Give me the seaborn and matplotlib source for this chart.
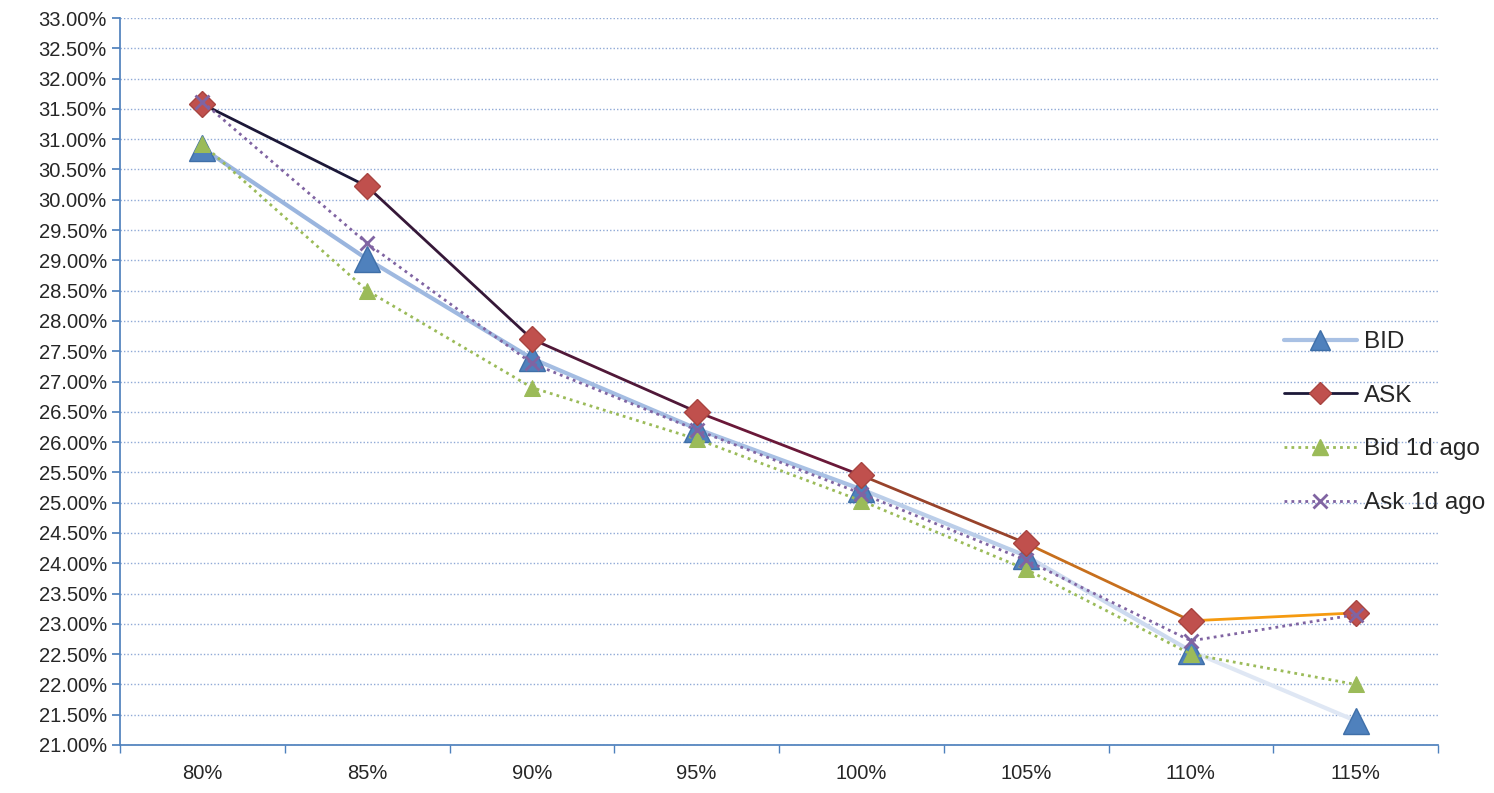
import matplotlib
matplotlib.use("Agg")
import matplotlib.pyplot as plt
import seaborn as sns
import numpy as np
from matplotlib.colors import to_rgb
from matplotlib.lines import Line2D
from matplotlib.ticker import FuncFormatter, MultipleLocator

categories = ["80%", "85%", "90%", "95%", "100%", "105%", "110%", "115%"]
bid = [30.85, 29.02, 27.38, 26.22, 25.22, 24.12, 22.55, 21.40]
ask = [31.58, 30.22, 27.70, 26.50, 25.45, 24.33, 23.05, 23.18]
bid_1d = [30.92, 28.50, 26.90, 26.05, 25.03, 23.90, 22.50, 22.00]
ask_1d = [31.62, 29.28, 27.30, 26.20, 25.15, 24.05, 22.72, 23.15]

sns.set_theme(style="white")
plt.rcParams['font.family'] = ['Liberation Sans', 'DejaVu Sans']

fig = plt.figure(figsize=(14.94, 7.93), dpi=100)
ax = fig.add_axes([120/1494, 48/793, 1318/1494, 727/793])
x = np.arange(len(categories))

def grad(c0, c1, c2, n):
    out = []
    for i in range(n):
        t = i/(n-1)
        if t < 0.5:
            a, b, s = to_rgb(c0), to_rgb(c1), t/0.5
        else:
            a, b, s = to_rgb(c1), to_rgb(c2), (t-0.5)/0.5
        out.append(tuple(a[k]+(b[k]-a[k])*s for k in range(3)))
    return out

bid_cols = grad("#9ab5de", "#a9c1e4", "#dfe7f4", len(x)-1)
ask_cols = grad("#1c1838", "#6a1838", "#f59a10", len(x)-1)
for i in range(len(x)-1):
    ax.plot(x[i:i+2], bid[i:i+2], color=bid_cols[i], lw=3, zorder=2, solid_capstyle='round')
    ax.plot(x[i:i+2], ask[i:i+2], color=ask_cols[i], lw=2, zorder=3)
ax.plot(x, bid, ls='none', marker='^', ms=19, color='#4f81bd', mec='#3f6fa8', zorder=4)
ax.plot(x, ask, ls='none', marker='D', ms=13, color='#c0504d', mec='#a84440', zorder=5)
sns.lineplot(x=x, y=bid_1d, ax=ax, color='#9bbb59', lw=2, ls=(0, (1, 1.5)), marker='^', ms=11, mec='#9bbb59', zorder=6)
sns.lineplot(x=x, y=ask_1d, ax=ax, color='#8064a2', lw=2, ls=(0, (1, 1.5)), marker='x', ms=10, mew=2, mec='#8064a2', zorder=7)

ax.set_xlim(-0.5, len(x)-0.5)
ax.set_ylim(21, 33)
ax.yaxis.set_major_locator(MultipleLocator(0.5))
ax.yaxis.set_major_formatter(FuncFormatter(lambda v, p: f"{v:.2f}%"))
ax.set_xticks(x)
ax.set_xticklabels(categories)
ax.set_xticks(np.arange(-0.5, len(x)), minor=True)
ax.tick_params(axis='x', which='major', length=0, labelsize=14.5, pad=14)
ax.tick_params(axis='x', which='minor', length=6, color='#4f81bd', direction='out', bottom=True)
ax.tick_params(axis='y', labelsize=14.5, length=6, color='#4f81bd', direction='out', left=True)
ax.grid(axis='y', color='#8fa9d6', ls=(0, (1, 1.5)), lw=1)
for s in ['top', 'right']:
    ax.spines[s].set_visible(False)
for s in ['left', 'bottom']:
    ax.spines[s].set_color('#4f81bd')

handles = [
    Line2D([], [], color='#a9c1e4', lw=3, marker='^', ms=15, mfc='#4f81bd', mec='#3f6fa8'),
    Line2D([], [], color='#1c1838', lw=2, marker='D', ms=11, mfc='#c0504d', mec='#a84440'),
    Line2D([], [], color='#9bbb59', lw=2, ls=(0, (1, 1.5)), marker='^', ms=11),
    Line2D([], [], color='#8064a2', lw=2, ls=(0, (1, 1.5)), marker='x', ms=10, mew=2),
]
fig.legend(handles, ["BID", "ASK", "Bid 1d ago", "Ask 1d ago"], loc='center left',
           bbox_to_anchor=(1262/1494, 0.467), frameon=False, fontsize=17.5,
           handlelength=3, labelspacing=1.3, handletextpad=0.3)
fig.savefig("out.png", dpi=100)
